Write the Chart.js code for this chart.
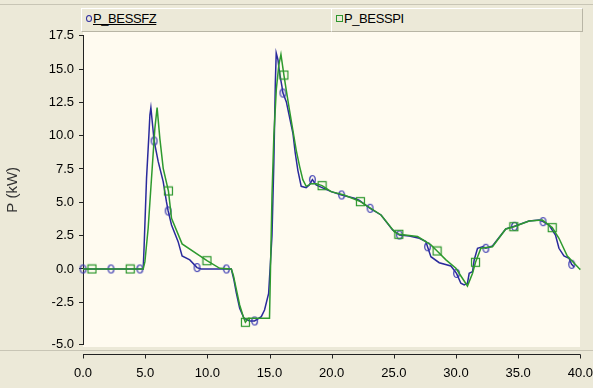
<!DOCTYPE html>
<html>
<head>
<meta charset="utf-8">
<script src="https://cdn.jsdelivr.net/npm/chart.js@4/dist/chart.umd.min.js"></script>
<style>
  html, body { margin: 0; padding: 0; background: #ECE9D8; }
  #wrap { position: relative; width: 593px; height: 388px; overflow: hidden; background: #ECE9D8; }
  #chart { position: absolute; left: 0; top: 0; }
  .topline { position: absolute; left: 0; top: 4px; width: 593px; height: 1px; background: #C8C5B5; }
  .cell { position: absolute; top: 8px; height: 24px; box-sizing: border-box;
          border-top: 1px solid #FFFFFF; border-left: 1px solid #FFFFFF;
          border-right: 1px solid #B8B5A5; border-bottom: 1px solid #B8B5A5;
          background: #ECE9D8; font: 13px "Liberation Sans", Arial, sans-serif;
          color: #000; line-height: 20px; white-space: nowrap; }
  .cell span.txt { position: absolute; top: 0; letter-spacing: -0.4px; }
  .cell span.ico { position: absolute; box-sizing: border-box; }
</style>
</head>
<body>
<div id="wrap">
  <canvas id="chart" width="593" height="388"></canvas>
  <div class="topline"></div>
  <div class="cell" style="left:81px; width:251px;">
    <span class="ico" style="left:4px; top:6px; width:6px; height:7px; border:1px solid #3030A0; border-radius:50%;"></span>
    <span class="txt" style="left:11px; text-decoration: underline;">P_BESSFZ</span>
  </div>
  <div class="cell" style="left:331px; width:252px;">
    <span class="ico" style="left:4px; top:6px; width:7px; height:7px; border:1px solid #2E962E;"></span>
    <span class="txt" style="left:12px;">P_BESSPI</span>
  </div>
</div>
<script>
// Time axis (s) and battery power (kW) for the two controllers
const fzT = [0, 2.25, 4.57, 4.84, 4.92, 5.11, 5.3, 5.38, 5.46, 5.72, 6.05, 6.45, 6.71, 6.85, 7.12, 7.65, 7.97, 8.59, 9.17, 9.5,
  11.53, 11.93, 12.14, 12.33, 12.6, 12.95, 13.4, 13.8, 14.34, 14.6, 14.93, 15.2, 15.35, 15.47, 15.54, 15.68, 15.81, 16.0, 16.08,
  16.35, 16.61, 16.88, 17.07, 17.28, 17.55, 17.95, 18.2, 18.45, 18.75, 19.0, 19.96, 20.8, 21.83, 22.23, 23.09, 23.97, 24.9,
  25.44, 26.24, 27.05, 27.58, 27.71, 27.98, 28.65, 29.59, 30.04, 30.39, 30.66, 30.92, 31.06, 31.33, 31.46, 31.73, 32.13,
  32.4, 32.93, 34.0, 34.7, 35.87, 36.68, 37.0, 37.48, 38.0, 38.28, 38.68, 39.09, 39.3, 39.5];
const fzP = [0, 0, 0, 0, 1.8, 6.8, 10.05, 11.55, 12.1, 9.6, 8.05, 6.55, 5.05, 4.35, 3.3, 2.05, 0.97, 0.68, 0.1, 0,
  0, 0, -0.83, -1.8, -2.95, -3.7, -3.9, -3.9, -3.58, -3.08, -1.83, 2.5, 8.0, 14.0, 16.2, 15.7, 14.7, 13.7, 13.2,
  12.55, 11.4, 10.2, 8.7, 7.4, 6.2, 6.1, 6.3, 6.7, 6.3, 6.2, 5.8, 5.55, 5.3, 5.15, 4.55, 4.05, 2.93,
  2.55, 2.48, 2.3, 2.05, 1.67, 0.92, 0.47, 0.22, -0.33, -1.07, -1.2, -1.07, -0.33, -0.2, 0.67, 1.55, 1.67,
  1.55, 1.72, 3.0, 3.2, 3.6, 3.67, 3.55, 3.3, 2.55, 1.55, 0.97, 0.8, 0.35, 0.15];
const fzMark = [1, 1, 1, 0, 0, 0, 0, 0, 0, 1, 0, 0, 0, 1, 0, 0, 0, 0, 1, 0,
  1, 0, 0, 0, 0, 0, 0, 1, 0, 0, 0, 0, 0, 0, 0, 0, 0, 0, 1,
  0, 0, 0, 0, 0, 0, 0, 0, 1, 0, 0, 0, 1, 0, 0, 1, 0, 0,
  1, 0, 0, 0, 1, 0, 0, 0, 1, 0, 0, 0, 0, 0, 0, 0, 0,
  1, 0, 0, 1, 0, 0, 1, 0, 0, 0, 0, 0, 1, 0];

const piT = [0, 0.72, 3.8, 4.84, 4.98, 5.24, 5.51, 5.78, 5.96, 6.18, 6.45, 6.87, 7.12, 7.97, 9.97, 11.0, 11.93, 12.1, 12.35,
  12.6, 12.9, 13.06, 13.3, 15.0, 15.08, 15.2, 15.35, 15.55, 15.75, 15.92, 16.16, 16.35, 16.61, 16.88, 17.15, 17.42, 17.68,
  17.95, 18.35, 18.75, 19.23, 19.96, 21.0, 22.31, 23.97, 25.04, 25.4, 26.91, 27.98, 28.48, 29.19, 29.99, 30.92, 31.33,
  31.57, 32.0, 32.93, 34.0, 34.65, 35.87, 36.94, 37.74, 38.28, 38.95, 39.89, 40.0];
const piP = [0, 0, 0, 0, 0.55, 3.05, 6.8, 10.55, 12.1, 9.8, 7.55, 5.85, 3.8, 1.88, 0.62, 0.05, 0, -0.5, -1.6,
  -2.7, -3.6, -4.0, -3.7, -3.7, 0, 5.5, 10.0, 13.5, 15.3, 16.1, 14.55, 13.4, 11.9, 10.4, 8.9, 7.7, 6.7,
  6.2, 6.4, 6.4, 6.25, 5.8, 5.55, 5.05, 4.05, 2.8, 2.6, 2.43, 1.8, 1.35, 0.68, 0.05, -1.28, -0.32,
  0.5, 1.55, 1.67, 3.0, 3.17, 3.6, 3.67, 3.1, 2.3, 0.97, 0.05, -0.05];
const piMark = [0, 1, 1, 0, 0, 0, 0, 0, 0, 0, 0, 1, 0, 0, 1, 0, 0, 0, 0,
  0, 0, 1, 0, 0, 0, 0, 0, 0, 0, 0, 1, 0, 0, 0, 0, 0, 0,
  0, 0, 0, 1, 0, 0, 1, 0, 0, 1, 0, 0, 1, 0, 0, 0, 0,
  1, 0, 0, 0, 1, 0, 0, 1, 0, 0, 0, 0];

// Axis ticks
const xTicks = [0, 5, 10, 15, 20, 25, 30, 35, 40];
const yAxisMin = -5.63;
const yAxisMax = 17.5;
const yTickValues = [yAxisMin, -2.5, 0, 2.5, 5, 7.5, 10, 12.5, 15, 17.5];
const yTickLabels = ['-5.0', '-2.5', '0.0', '2.5', '5.0', '7.5', '10.0', '12.5', '15.0', '17.5'];

const seriesNames = ['P_BESSFZ', 'P_BESSPI'];
const BLUE = '#2A2A9C';
const GREEN = '#2E9A2E';
const FONT = '"Liberation Sans", Arial, sans-serif';

function markerImage(kind, color) {
  const c = document.createElement('canvas');
  c.width = 11; c.height = 11;
  const g = c.getContext('2d');
  g.strokeStyle = color;
  g.lineWidth = 1.2;
  if (kind === 'ellipse') {
    g.beginPath();
    g.ellipse(5.5, 5.5, 2.8, 4.0, 0, 0, Math.PI * 2);
    g.stroke();
  } else {
    g.strokeRect(1.5, 1.5, 8, 8);
  }
  return c;
}

const pts = (t, p) => t.map((x, i) => ({ x: x, y: p[i] }));

// Plot panel background and the detached time axis underneath it
const panelPlugin = {
  id: 'panel',
  beforeDraw(chart) {
    const { ctx } = chart;
    ctx.save();
    ctx.fillStyle = '#ECE9D8';
    ctx.fillRect(0, 0, chart.width, chart.height);
    ctx.fillStyle = '#FFFBF0';
    ctx.fillRect(83, 32, 497, 315);
    ctx.restore();
  },
  afterDraw(chart) {
    const { ctx } = chart;
    const xs = chart.scales.x;
    const axisY = 354.5;
    ctx.save();
    ctx.strokeStyle = '#C8C5B5';
    ctx.lineWidth = 1;
    ctx.beginPath();
    ctx.moveTo(0, 350.5);
    ctx.lineTo(chart.width, 350.5);
    ctx.stroke();
    ctx.strokeStyle = '#222222';
    ctx.beginPath();
    ctx.moveTo(xs.left, axisY);
    ctx.lineTo(xs.right, axisY);
    xs.ticks.forEach(t => {
      const px = Math.round(xs.getPixelForValue(t.value)) + 0.5;
      ctx.moveTo(px, axisY);
      ctx.lineTo(px, axisY + 4);
    });
    ctx.stroke();
    ctx.restore();
  }
};

new Chart(document.getElementById('chart'), {
  type: 'line',
  data: {
    datasets: [
      {
        label: seriesNames[0],
        data: pts(fzT, fzP),
        borderColor: BLUE,
        borderWidth: 1.5,
        tension: 0,
        pointStyle: markerImage('ellipse', '#3535B0'),
        pointRadius: ctx => (fzMark[ctx.dataIndex] ? 4 : 0),
        order: 2,
        clip: false
      },
      {
        label: seriesNames[1],
        data: pts(piT, piP),
        borderColor: GREEN,
        borderWidth: 1.5,
        tension: 0,
        pointStyle: markerImage('rect', '#2A962A'),
        pointRadius: ctx => (piMark[ctx.dataIndex] ? 4 : 0),
        order: 1,
        clip: false
      }
    ]
  },
  options: {
    responsive: false,
    animation: false,
    events: [],
    layout: { padding: { top: 35.7, right: 11.5, bottom: 0, left: 0 } },
    plugins: { legend: { display: false }, tooltip: { enabled: false } },
    scales: {
      x: {
        type: 'linear',
        min: 0,
        max: 40,
        afterFit: s => { s.height = 44; },
        afterBuildTicks: s => { s.ticks = xTicks.map(v => ({ value: v })); },
        grid: { display: false, drawTicks: true, tickLength: 22 },
        border: { display: false },
        ticks: {
          padding: 0,
          maxRotation: 0,
          color: '#000',
          font: { family: FONT, size: 13 },
          callback: v => Number(v).toFixed(1)
        }
      },
      y: {
        type: 'linear',
        min: yAxisMin,
        max: yAxisMax,
        afterFit: s => { s.width = 83; },
        afterBuildTicks: s => { s.ticks = yTickValues.map(v => ({ value: v })); },
        grid: { display: true, drawOnChartArea: false, drawTicks: true, tickLength: 4, color: '#222222' },
        border: { display: true, color: '#222222', width: 1 },
        ticks: {
          padding: 5,
          color: '#000',
          font: { family: FONT, size: 13 },
          callback: (v, i) => yTickLabels[i]
        },
        title: {
          display: true,
          text: 'P (kW)',
          color: '#333333',
          font: { family: FONT, size: 15 },
          padding: { top: 4, bottom: 0 }
        }
      }
    }
  },
  plugins: [panelPlugin]
});
</script>
</body>
</html>
